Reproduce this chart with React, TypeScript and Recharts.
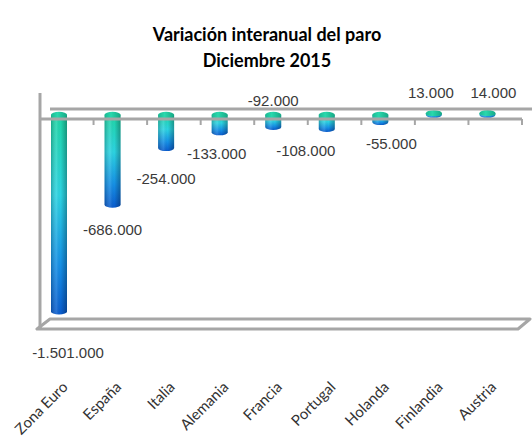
import React from 'react';
import { BarChart, Bar, XAxis, YAxis, ReferenceLine, LabelList } from 'recharts';

const countries = ['Zona Euro', 'España', 'Italia', 'Alemania', 'Francia', 'Portugal', 'Holanda', 'Finlandia', 'Austria'];
const paroChange = [-1501000, -686000, -254000, -133000, -92000, -108000, -55000, 13000, 14000];
const yDomain = [-1589000, 14000];

const data = countries.map((name, i) => ({ name, value: paroChange[i] }));

// label nudges [dx, dy] from the bar end, roughly how Excel placed them
const labelNudge = [[9, 41], [0, 25], [0, 30], [-3, 21], [0, -14], [-21, 22], [11, 21], [-3, -21], [6, -21]];

// 3D depth offset of the bars behind the front plane
const DEPTH_X = -8;
const DEPTH_Y = -6;
const FRAME = '#a6a6a6';

function fmt(v: number) {
  const s = Math.abs(v).toString().replace(/\B(?=(\d{3})+(?!\d))/g, '.');
  return (v < 0 ? '-' : '') + s;
}

function Cylinder(props: any) {
  const { x, y, width, height } = props;
  const top = Math.min(y, y + height) + DEPTH_Y;
  const bottom = Math.max(y, y + height) + DEPTH_Y;
  const rx = width / 2;
  const ry = 3;
  const cx = x + rx + DEPTH_X;
  const l = cx - rx;
  const r = cx + rx;
  const body = `M${l},${top} L${l},${bottom} A${rx},${ry} 0 0 0 ${r},${bottom} L${r},${top} Z`;
  return (
    <g>
      <path d={body} fill="url(#cylBody)" />
      <path d={body} fill="url(#cylShade)" />
      <ellipse cx={cx} cy={top} rx={rx} ry={ry} fill="url(#cylCap)" />
    </g>
  );
}

function ValueLabel(props: any) {
  const { x, y, width, height, value, index } = props;
  const top = Math.min(y, y + height) + DEPTH_Y;
  const bottom = Math.max(y, y + height) + DEPTH_Y;
  const [dx, dy] = labelNudge[index] || [0, 0];
  const cx = x + width / 2 + DEPTH_X + dx;
  const base = value < 0 && dy > 0 ? bottom : top;
  return (
    <text x={cx} y={base + dy} textAnchor="middle" dominantBaseline="central"
      fontFamily="'Liberation Sans', Arial, sans-serif" fontSize={15} fill="#3a3a3a">
      {fmt(value)}
    </text>
  );
}

function CategoryTick(props: any) {
  const { x, y, payload } = props;
  const ax = x + 2;
  const ay = y + 51;
  return (
    <text x={ax} y={ay} textAnchor="end" transform={`rotate(-45 ${ax} ${ay})`}
      fontFamily="Lato, 'Open Sans', sans-serif" fontSize={15} fill="#333">
      {payload.value}
    </text>
  );
}

// category axis at the zero plane: front line with boundary ticks, back edge, left wall top
function TopFrame(props: any) {
  const { x1, x2, y1 } = props;
  const n = countries.length;
  const step = (x2 - x1) / n;
  return (
    <g stroke={FRAME} fill="none">
      <line x1={x1 + 10} y1={y1 - 10} x2={x2 + 10} y2={y1 - 10} strokeWidth={3} />
      <line x1={x1} y1={y1 - 26} x2={x1} y2={y1} strokeWidth={3} />
      <line x1={x1} y1={y1} x2={x2} y2={y1} strokeWidth={3} />
      {countries.map((c, i) => (
        <line key={c} x1={x1 + step * (i + 1)} y1={y1} x2={x1 + step * (i + 1)} y2={y1 + 6} strokeWidth={2} />
      ))}
    </g>
  );
}

// 3D floor
function Floor(props: any) {
  const { x1, x2, y1 } = props;
  return (
    <path d={`M${x1 - 3},${y1} L${x2 - 4},${y1} L${x2 + 8},${y1 - 10} L${x1 + 10},${y1 - 10} Z`}
      stroke={FRAME} strokeWidth={3} fill="none" strokeLinejoin="round" />
  );
}

export default function App() {
  return (
    <div style={{ width: 532, height: 436, position: 'absolute', left: 0, top: 0, background: '#fff' }}>
      <style>{'body{margin:0}'}</style>
      <svg width={532} height={80} style={{ position: 'absolute', left: 0, top: 0 }}>
        <text x={267} y={41} textAnchor="middle" fontFamily="Lato, 'Open Sans', sans-serif" fontWeight="bold" fontSize={18} fill="#000">
          Variación interanual del paro
        </text>
        <text x={267} y={67} textAnchor="middle" fontFamily="Lato, 'Open Sans', sans-serif" fontWeight="bold" fontSize={18} fill="#000">
          Diciembre 2015
        </text>
      </svg>
      <div style={{ position: 'absolute', left: 0, top: 0 }}>
        <BarChart width={532} height={436} data={data} margin={{ top: 119, right: 10, bottom: 7, left: 39 }} barSize={16}>
          <defs>
            <linearGradient id="cylBody" x1="0" y1="0" x2="0" y2="1">
              <stop offset="0" stopColor="#1fd6a6" />
              <stop offset="0.4" stopColor="#2cd4e2" />
              <stop offset="0.75" stopColor="#1590e6" />
              <stop offset="1" stopColor="#0a5cce" />
            </linearGradient>
            <linearGradient id="cylShade" x1="0" y1="0" x2="1" y2="0">
              <stop offset="0" stopColor="#000" stopOpacity={0.22} />
              <stop offset="0.35" stopColor="#fff" stopOpacity={0.12} />
              <stop offset="0.6" stopColor="#000" stopOpacity={0} />
              <stop offset="1" stopColor="#000" stopOpacity={0.3} />
            </linearGradient>
            <linearGradient id="cylCap" x1="0" y1="0" x2="1" y2="0">
              <stop offset="0" stopColor="#19b992" />
              <stop offset="0.4" stopColor="#2ad8ad" />
              <stop offset="1" stopColor="#16a985" />
            </linearGradient>
          </defs>
          <XAxis dataKey="name" axisLine={false} tickLine={false} interval={0} height={100} tick={<CategoryTick />} />
          <YAxis width={1} domain={yDomain} tick={false} tickLine={false}
            axisLine={{ stroke: FRAME, strokeWidth: 3 }} />
          <ReferenceLine y={yDomain[0]} shape={<Floor />} />
          <Bar dataKey="value" isAnimationActive={false} shape={<Cylinder />}>
            <LabelList dataKey="value" content={<ValueLabel />} />
          </Bar>
          <ReferenceLine y={yDomain[1]} shape={<TopFrame />} />
        </BarChart>
      </div>
    </div>
  );
}
